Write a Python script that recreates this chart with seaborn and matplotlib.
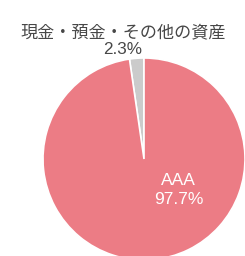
#!/usr/bin/env python3
"""Asset breakdown pie chart (AAA vs cash)."""

import matplotlib
matplotlib.use("Agg")
import matplotlib.pyplot as plt
import seaborn as sns

labels = ["現金・預金・その他の資産", "AAA"]
shares = [2.3, 97.7]
colors = ["#cbcbcb", "#ec7c85"]

sns.set_style("white")
plt.rcParams["font.family"] = ["Liberation Sans", "Noto Sans CJK JP", "DejaVu Sans"]

fig = plt.figure(figsize=(2.45, 2.56), dpi=100)
ax = fig.add_axes([43 / 245, -4 / 256, 202 / 245, 202 / 256])

ax.pie(
    shares,
    colors=colors,
    startangle=90,
    counterclock=True,
    wedgeprops={"edgecolor": "white", "linewidth": 1.2},
)
ax.set_xlim(-1, 1)
ax.set_ylim(-1, 1)

# outside label for the small slice
ax.text(-0.21, 1.25, labels[0], ha="center", va="center",
        fontsize=12.3, color="#474747", clip_on=False)
ax.text(-0.21, 1.08, f"{shares[0]}%", ha="center", va="center",
        fontsize=12.3, color="#474747", clip_on=False)

# inside label for the big slice
ax.text(0.34, -0.21, labels[1], ha="center", va="center",
        fontsize=12.5, color="white")
ax.text(0.34, -0.40, f"{shares[1]}%", ha="center", va="center",
        fontsize=12.5, color="white")

fig.savefig("out.png", dpi=100, facecolor="white")
plt.close(fig)
